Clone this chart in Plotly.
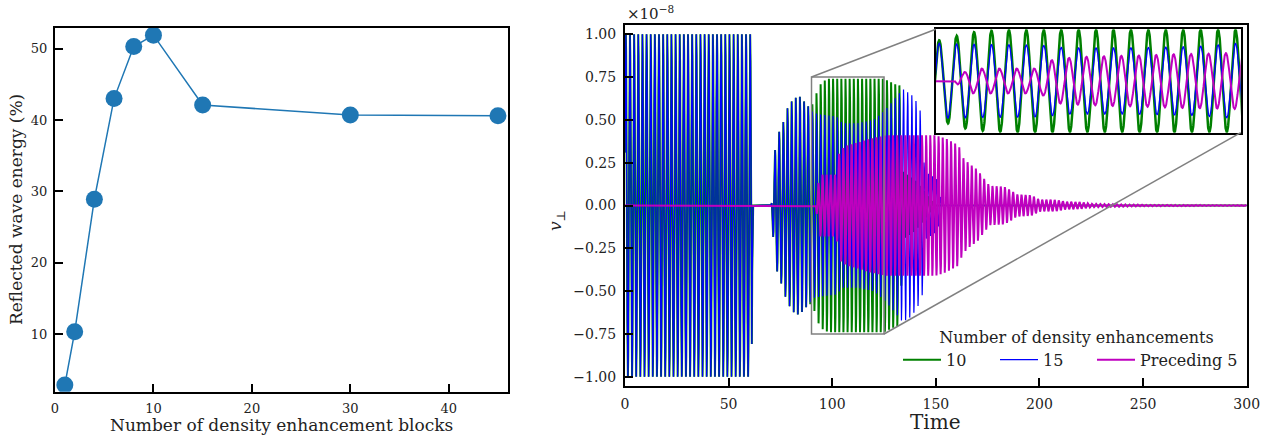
import numpy as np
import plotly.graph_objects as go

# ---------------- data: left panel ----------------
N_BLOCKS = [1, 2, 4, 6, 8, 10, 15, 30, 45]
REFLECTED_PCT = [2.85, 10.3, 28.9, 43.0, 50.3, 51.9, 42.1, 40.7, 40.6]

# ---------------- data: right panel (v_perp in units of 1e-8) ----------------
# envelope knots (time, amplitude)
GREEN_T = [0, 61.2, 61.5, 70.6, 72, 74, 76, 78, 81, 84, 87, 89, 91, 93, 95, 98, 110, 125, 130, 132.8, 134.0, 140, 150]
GREEN_A = [1.0, 1.0, 0.0, 0.0, 0.30, 0.42, 0.47, 0.56, 0.62, 0.64, 0.60, 0.57, 0.60, 0.68, 0.72, 0.74, 0.74, 0.74, 0.71, 0.70, 0.20, 0.15, 0.0]

BLUE_T = [0, 61.2, 61.5, 70.6, 72, 74, 76, 78, 81, 84, 87, 89, 91, 95, 102, 105, 112, 120, 125, 130, 134, 138, 141, 143.5, 144.5, 151, 153]
BLUE_A = [1.0, 1.0, 0.0, 0.0, 0.30, 0.42, 0.47, 0.56, 0.62, 0.64, 0.60, 0.57, 0.54, 0.53, 0.52, 0.48, 0.48, 0.50, 0.55, 0.62, 0.68, 0.65, 0.60, 0.52, 0.20, 0.15, 0.0]

MAG_T = [0, 92.2, 92.6, 94, 102, 103.5, 107, 113, 118, 126, 150, 155, 158, 161, 163, 166, 170, 173, 176, 183, 186, 189, 196, 200, 208, 212, 220, 225, 235, 250, 300]
MAG_A = [0, 0, 0.08, 0.18, 0.18, 0.32, 0.35, 0.37, 0.39, 0.41, 0.41, 0.39, 0.37, 0.35, 0.28, 0.245, 0.21, 0.16, 0.115, 0.11, 0.09, 0.065, 0.06, 0.035, 0.033, 0.023, 0.02, 0.01, 0.008, 0.005, 0.003]

PERIOD = 2.0
PEAK_GB = 0.4     # time of a green/blue crest (mod period)
PEAK_MAG = 1.3    # time of a magenta crest (mod period)

SERIES_NAMES = ["10", "15", "Preceding 5"]
LEGEND_TITLE = "Number of density enhancements"
X_TICKS_R = [0, 50, 100, 150, 200, 250, 300]
Y_TICKS_R = [-1.0, -0.75, -0.5, -0.25, 0.0, 0.25, 0.5, 0.75, 1.0]
X_TICKS_L = [0, 10, 20, 30, 40]
Y_TICKS_L = [10, 20, 30, 40, 50]
ZOOM_X = [90, 125]
ZOOM_Y = [-0.75, 0.75]

# ---------------- build waveforms ----------------
t = np.arange(0, 300.0001, 0.02)
carrier_gb = np.cos(2 * np.pi * (t - PEAK_GB) / PERIOD)
carrier_m = np.cos(2 * np.pi * (t - PEAK_MAG) / PERIOD)
v_green = np.interp(t, GREEN_T, GREEN_A) * carrier_gb
v_blue = np.interp(t, BLUE_T, BLUE_A) * carrier_gb
v_mag = np.interp(t, MAG_T, MAG_A) * carrier_m
mask = (t >= ZOOM_X[0] - 1) & (t <= ZOOM_X[1] + 1)

W, H = 1276, 441
FONT = "DejaVu Serif"
GREEN, BLUE, MAG, TBLUE = "#008000", "#0000ff", "#bf00bf", "#1f77b4"


def px(x):
    return x / W


def py(y):
    return 1 - y / H


# layout geometry (pixels)
L_X = [55, 508.3]
L_Y = [391.7, 28]
R_X = [625, 1246.7]
R_Y = [385.7, 25]
I_X = [935.7, 1240.7]
I_Y = [132.7, 29.3]
R_XRANGE = [0, 300]
R_YRANGE = [-1.052, 1.054]

fig = go.Figure()

# left panel
fig.add_trace(go.Scatter(x=N_BLOCKS, y=REFLECTED_PCT, mode="lines+markers",
                         line=dict(color=TBLUE, width=1.5),
                         marker=dict(size=17, color=TBLUE),
                         xaxis="x", yaxis="y", showlegend=False))

# right panel main
for name, v, col, w, lw in [(SERIES_NAMES[0], v_green, GREEN, 2.0, 44),
                            (SERIES_NAMES[1], v_blue, BLUE, 1.2, 44),
                            (SERIES_NAMES[2], v_mag, MAG, 2.0, 110)]:
    fig.add_trace(go.Scatter(x=t, y=v, mode="lines", name=name,
                             line=dict(color=col, width=w), legendwidth=lw,
                             xaxis="x2", yaxis="y2", showlegend=True))

# inset
for v, col, w in [(v_green, GREEN, 2.5), (v_blue, BLUE, 1.3), (v_mag, MAG, 2.0)]:
    fig.add_trace(go.Scatter(x=t[mask], y=v[mask], mode="lines",
                             line=dict(color=col, width=w),
                             xaxis="x3", yaxis="y3", showlegend=False))

tickfont_l = dict(family=FONT, size=13, color="#222")
tickfont_r = dict(family=FONT, size=14, color="#222")
common = dict(showline=True, linecolor="black", linewidth=2, mirror=True,
              showgrid=False, zeroline=False, ticks="inside", ticklen=8,
              tickwidth=1.5, tickcolor="black", automargin=False)
inset_ax = dict(showticklabels=False, ticks="", showline=True, linecolor="black",
                linewidth=2.2, mirror=True, showgrid=False, zeroline=False,
                automargin=False)

fig.update_layout(
    width=W, height=H, autosize=False,
    margin=dict(l=0, r=0, t=0, b=0, pad=0, autoexpand=False),
    paper_bgcolor="white", plot_bgcolor="white",
    font=dict(family=FONT, color="#222"),
    xaxis=dict(domain=[px(L_X[0]), px(L_X[1])], range=[0, 46.05], anchor="y",
               tickvals=X_TICKS_L, tickfont=tickfont_l, ticklabelstandoff=4, **common),
    yaxis=dict(domain=[py(L_Y[0]), py(L_Y[1])], range=[1.9, 52.9], anchor="x",
               tickvals=Y_TICKS_L, tickfont=tickfont_l, ticklabelstandoff=3, **common),
    xaxis2=dict(domain=[px(R_X[0]), px(R_X[1])], range=R_XRANGE, anchor="y2",
                tickvals=X_TICKS_R, tickfont=tickfont_r, ticklabelstandoff=4, **common),
    yaxis2=dict(domain=[py(R_Y[0]), py(R_Y[1])], range=R_YRANGE, anchor="x2",
                tickvals=Y_TICKS_R, tickformat=".2f", tickfont=tickfont_r,
                ticklabelstandoff=4, **common),
    xaxis3=dict(domain=[px(I_X[0]), px(I_X[1])], range=ZOOM_X, anchor="y3", **inset_ax),
    yaxis3=dict(domain=[py(I_Y[0]), py(I_Y[1])], range=ZOOM_Y, anchor="x3", **inset_ax),
    legend=dict(orientation="h", x=px(898), y=py(322), xanchor="left", yanchor="top",
                bgcolor="rgba(0,0,0,0)", borderwidth=0,
                font=dict(family=FONT, size=16, color="#222"),
                title=dict(text=LEGEND_TITLE, side="top center",
                           font=dict(family=FONT, size=16, color="#222")),
                itemwidth=38, tracegroupgap=0),
)


# inset corners expressed in main-axis data coordinates
def paper_to_x2(xp):
    d0, d1 = px(R_X[0]), px(R_X[1])
    return R_XRANGE[0] + (xp - d0) / (d1 - d0) * (R_XRANGE[1] - R_XRANGE[0])


def paper_to_y2(yp):
    d0, d1 = py(R_Y[0]), py(R_Y[1])
    return R_YRANGE[0] + (yp - d0) / (d1 - d0) * (R_YRANGE[1] - R_YRANGE[0])


gray = dict(color="#808080", width=1.5)
fig.add_shape(type="rect", xref="x2", yref="y2", x0=ZOOM_X[0], x1=ZOOM_X[1],
              y0=ZOOM_Y[0], y1=ZOOM_Y[1], line=gray, layer="above")
fig.add_shape(type="line", xref="x2", yref="y2", x0=ZOOM_X[0], y0=ZOOM_Y[1],
              x1=paper_to_x2(px(I_X[0])), y1=paper_to_y2(py(I_Y[1])), line=gray, layer="above")
fig.add_shape(type="line", xref="x2", yref="y2", x0=ZOOM_X[1], y0=ZOOM_Y[0],
              x1=paper_to_x2(px(I_X[1])), y1=paper_to_y2(py(I_Y[0])), line=gray, layer="above")

ann = [
    dict(text="Reflected wave energy (%)", x=px(16), y=py(210), textangle=-90, size=17),
    dict(text="Number of density enhancement blocks", x=px(281), y=py(425), textangle=0, size=17),
    dict(text="Time", x=px(935.5), y=py(422), textangle=0, size=20),
    dict(text="<i>v</i><sub>⊥</sub>", x=px(557), y=py(221), textangle=-90, size=17),
    dict(text="×10<sup>−8</sup>", x=px(650), y=py(13), textangle=0, size=15),
]
for a in ann:
    fig.add_annotation(text=a["text"], x=a["x"], y=a["y"], xref="paper", yref="paper",
                       xanchor="center", yanchor="middle", showarrow=False,
                       textangle=a["textangle"],
                       font=dict(family=FONT, size=a["size"], color="#222"))

fig.write_html("out.html")
